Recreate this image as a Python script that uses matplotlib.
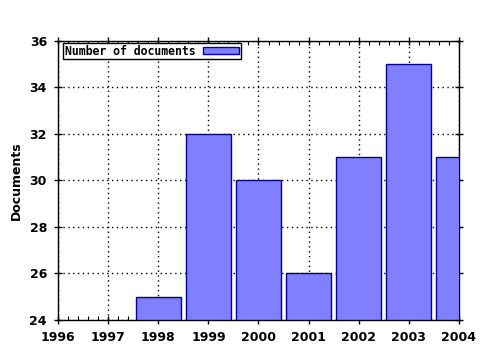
import matplotlib
matplotlib.use('Agg')
import matplotlib.pyplot as plt
from matplotlib.ticker import MultipleLocator

years = [1998, 1999, 2000, 2001, 2002, 2003, 2004]
documents = [25, 32, 30, 26, 31, 35, 31]

fig = plt.figure(figsize=(4.8, 3.5), dpi=100)
ax = fig.add_axes([0.121, 0.086, 0.835, 0.797])

ax.bar(years, [d - 24 for d in documents], bottom=24, width=0.9,
       color='#8080ff', edgecolor='#0000a0', linewidth=1,
       label='Number of documents', zorder=3)

ax.set_xlim(1996, 2004)
ax.set_ylim(24, 36)
ax.xaxis.set_major_locator(MultipleLocator(1))
ax.xaxis.set_minor_locator(MultipleLocator(0.2))
ax.yaxis.set_major_locator(MultipleLocator(2))

ax.grid(True, which='major', color='black', linestyle=(0, (1, 2.5)), linewidth=1, zorder=1)
ax.tick_params(which='major', direction='inout', length=6, top=True, right=True,
               labelsize=9, width=1, pad=5)
ax.tick_params(which='minor', direction='in', length=3, top=True, width=0.8)
for lab in ax.get_xticklabels() + ax.get_yticklabels():
    lab.set_fontweight('bold')
for s in ax.spines.values():
    s.set_linewidth(1)

ax.set_ylabel('Documents', fontsize=9, fontweight='bold', labelpad=5)

leg = ax.legend(loc='upper left', bbox_to_anchor=(0.012, 0.993), markerfirst=False,
                frameon=True, fancybox=False, edgecolor='black', framealpha=1,
                borderpad=0.15, handlelength=3.1, handleheight=0.6, handletextpad=0.7,
                borderaxespad=0, prop={'family': 'DejaVu Sans Mono', 'weight': 'bold', 'size': 8.3})
leg.get_frame().set_linewidth(1)

fig.savefig('out.png', dpi=100)
